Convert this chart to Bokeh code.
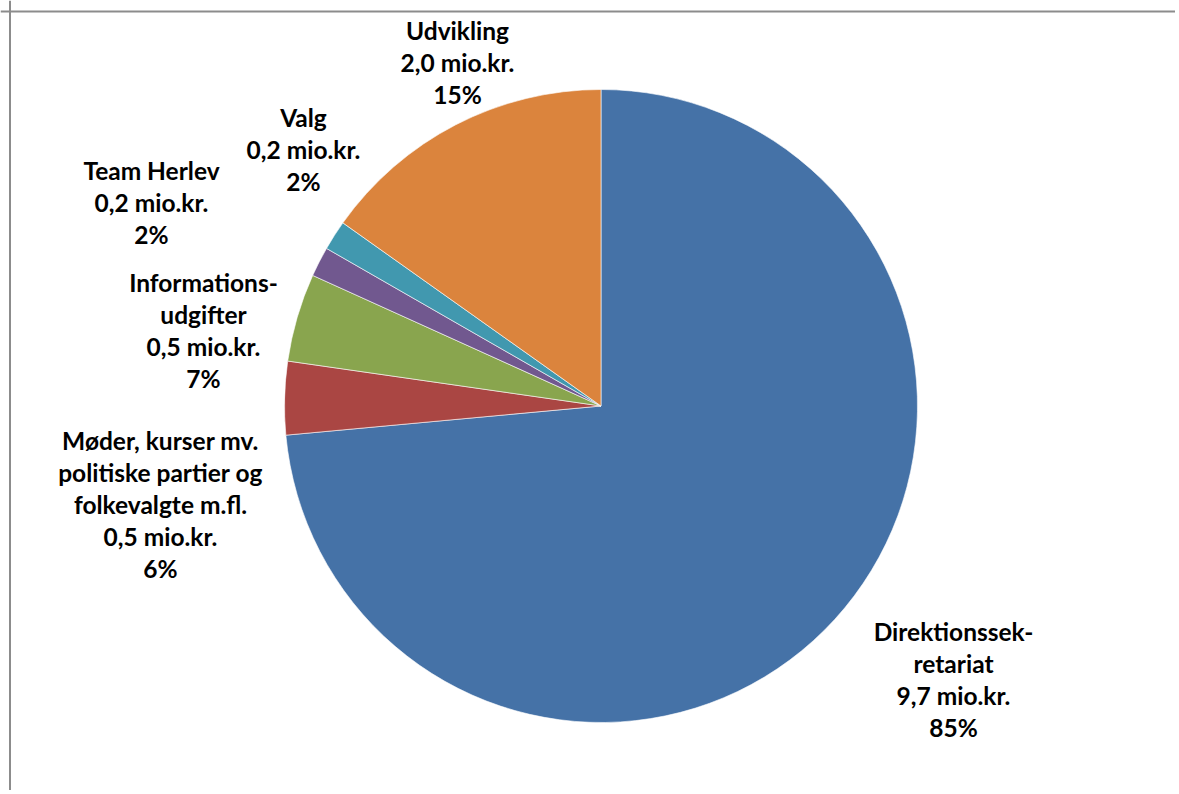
import math
from bokeh.plotting import figure
from bokeh.models import Range1d, Span, ColumnDataSource
from bokeh.core.properties import value
from bokeh.embed import file_html
from bokeh.resources import INLINE

# ---- data ----
categories = ["Direktionssek-\nretariat",
              "Møder, kurser mv.\npolitiske partier og\nfolkevalgte m.fl.",
              "Informations-\nudgifter",
              "Team Herlev",
              "Valg",
              "Udvikling"]
amount_labels = ["9,7", "0,5", "0,5", "0,2", "0,2", "2,0"]
pct_labels = ["85%", "6%", "7%", "2%", "2%", "15%"]
values = [9.64, 0.49, 0.59, 0.20, 0.20, 1.99]
colors = ["#4572A7", "#AA4643", "#89A54E", "#71588F", "#4198AF", "#DB843D"]

# ---- layout (screen pixels inside window) ----
W, H = 1175, 790
def dx(sx):
    return sx
def dy(sy):
    return H - sy

CX, CY, R = 600.5, 405.5, 316.5
# label anchors: (center x, first line y) in window pixels
label_anchor = [(953, 631), (160, 440), (203, 282), (151, 170), (303, 117), (457, 30)]
LINE_H = 32

p = figure(width=W, height=H, output_backend="svg", toolbar_location=None,
           x_range=Range1d(0, W), y_range=Range1d(0, H),
           x_axis_type=None, y_axis_type=None, min_border=0,
           background_fill_color="white", border_fill_color="white")
p.outline_line_color = None
p.xgrid.visible = False
p.ygrid.visible = False

total = sum(values)
starts, ends = [], []
cum = 0.0
for v in values:
    a0 = math.pi / 2 - 2 * math.pi * cum / total
    cum += v
    a1 = math.pi / 2 - 2 * math.pi * cum / total
    starts.append(a1)
    ends.append(a0)

src = ColumnDataSource(dict(x=[dx(CX)] * len(values), y=[dy(CY)] * len(values),
                            start=starts, end=ends, color=colors))
p.wedge(x="x", y="y", radius=R, start_angle="start", end_angle="end",
        direction="anticlock", fill_color="color", line_color="white",
        line_width=0.6, source=src)

tx, ty, tt = [], [], []
for cat, amt, pct, (ax, ay) in zip(categories, amount_labels, pct_labels, label_anchor):
    lines = cat.split("\n") + [amt + " mio.kr.", pct]
    for i, ln in enumerate(lines):
        tx.append(dx(ax))
        ty.append(dy(ay + i * LINE_H))
        tt.append(ln)

p.text(x=tx, y=ty, text=tt, text_align="center", text_baseline="alphabetic",
       text_font=value("Lato"), text_font_style="bold", text_font_size="24.5px",
       text_color="black")

p.add_layout(Span(location=dy(11), dimension="width", line_color="#8c8c8c", line_width=2))
p.add_layout(Span(location=dx(9.5), dimension="height", line_color="#8c8c8c", line_width=2))

open("out.html", "w").write(file_html(p, INLINE))
